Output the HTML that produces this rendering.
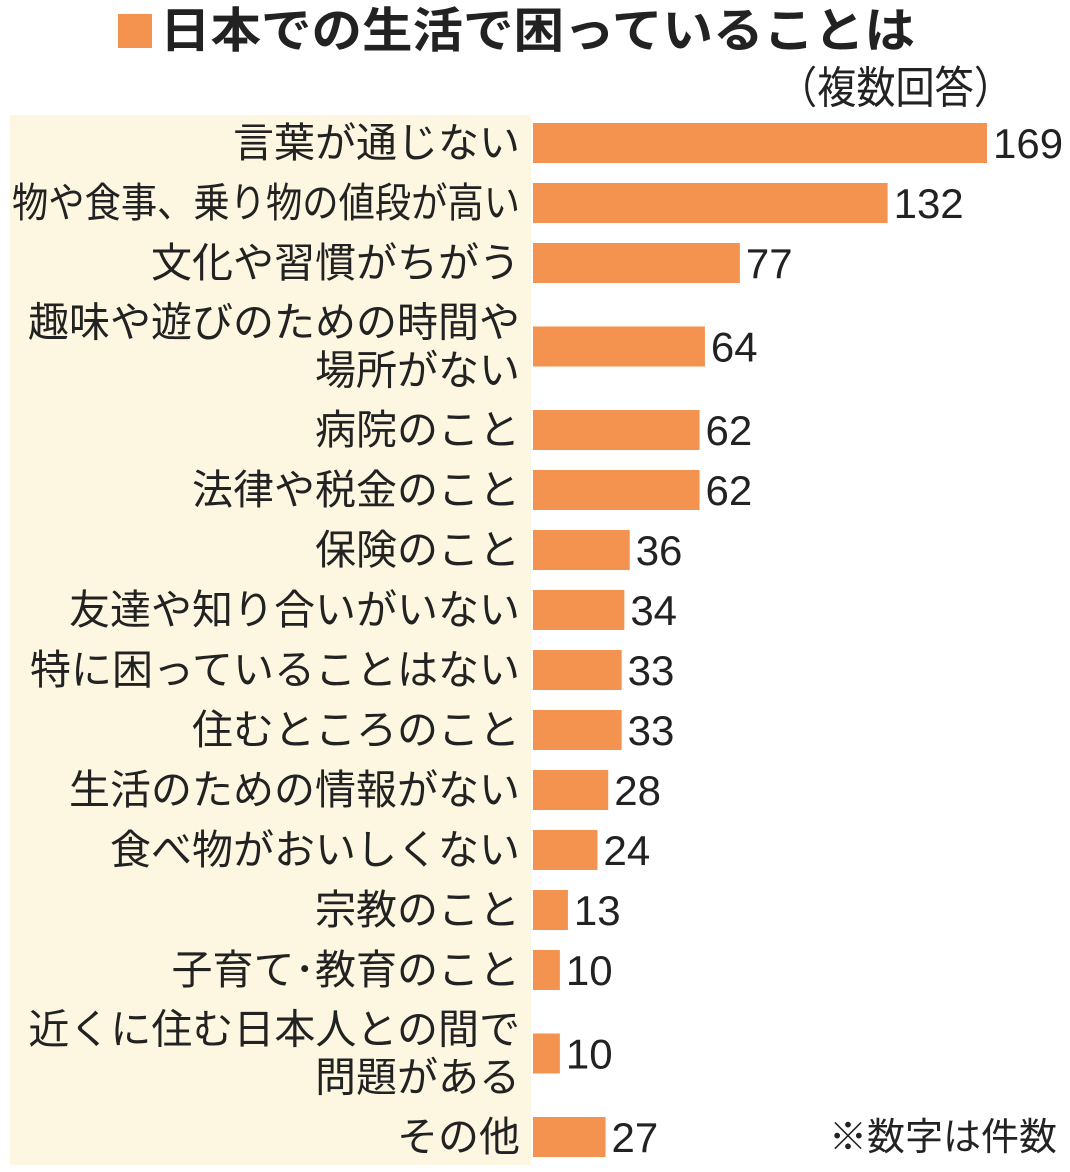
<!DOCTYPE html>
<html><head><meta charset="utf-8"><style>
body{margin:0;width:1070px;height:1167px;background:#fff;overflow:hidden;font-family:"Liberation Sans","Noto Sans CJK JP",sans-serif;}
</style></head><body>
<svg id="chart" width="1070" height="1167" xmlns="http://www.w3.org/2000/svg">
<rect x="10" y="115" width="521" height="1050" fill="#fdf7e1"/>
<rect x="118" y="14" width="34" height="34" fill="#f4924f"/>
<text x="160" y="47" font-size="48" font-weight="bold" fill="#222" font-family="Liberation Sans,Noto Sans CJK JP,sans-serif" textLength="755" lengthAdjust="spacingAndGlyphs">日本での生活で困っていることは</text>
<text x="778" y="103" font-size="44" fill="#222" font-family="Liberation Sans,Noto Sans CJK JP,sans-serif" textLength="235" lengthAdjust="spacingAndGlyphs">（複数回答）</text>
<text x="1057" y="1150" text-anchor="end" font-size="38" fill="#222" font-family="Liberation Sans,Noto Sans CJK JP,sans-serif">※数字は件数</text>
<g id="bars"></g>
</svg>
<script>
const categories=[["言葉が通じない"],["物や食事、乗り物の値段が高い"],["文化や習慣がちがう"],["趣味や遊びのための時間や","場所がない"],["病院のこと"],["法律や税金のこと"],["保険のこと"],["友達や知り合いがいない"],["特に困っていることはない"],["住むところのこと"],["生活のための情報がない"],["食べ物がおいしくない"],["宗教のこと"],["子育て･教育のこと"],["近くに住む日本人との間で","問題がある"],["その他"]];
const values=[169,132,77,64,62,62,36,34,33,33,28,24,13,10,10,27];
const NS="http://www.w3.org/2000/svg";
const g=document.getElementById('bars');
const x0=533, scale=(987-533)/169;
function xs(v){return x0+v*scale;}
let y=113;
categories.forEach((lines,i)=>{
  const h=lines.length>1?107:60;
  const cy=y+h/2;
  const r=document.createElementNS(NS,'rect');
  r.setAttribute('x',x0);r.setAttribute('y',cy-20);
  r.setAttribute('width',xs(values[i])-x0);r.setAttribute('height',40);
  r.setAttribute('fill','#f4924f');
  
  
  g.appendChild(r);
  const t=document.createElementNS(NS,'text');
  t.setAttribute('x',xs(values[i])+6);t.setAttribute('y',cy+15);
  t.setAttribute('font-size','42');t.setAttribute('fill','#222');
  t.textContent=values[i];
  
  
  g.appendChild(t);
  lines.forEach((ln,j)=>{
    const l=document.createElementNS(NS,'text');
    const ly=lines.length>1?cy-24+j*48:cy;
    l.setAttribute('x',520);l.setAttribute('y',ly+14);
    l.setAttribute('text-anchor','end');l.setAttribute('font-size','41');l.setAttribute('fill','#222');
    l.textContent=ln;
    
    
    g.appendChild(l);
    const w=l.getComputedTextLength();
    if(w>508){l.setAttribute('textLength','508');l.setAttribute('lengthAdjust','spacingAndGlyphs');}
  });
  y+=h;
});
</script>
</body></html>
